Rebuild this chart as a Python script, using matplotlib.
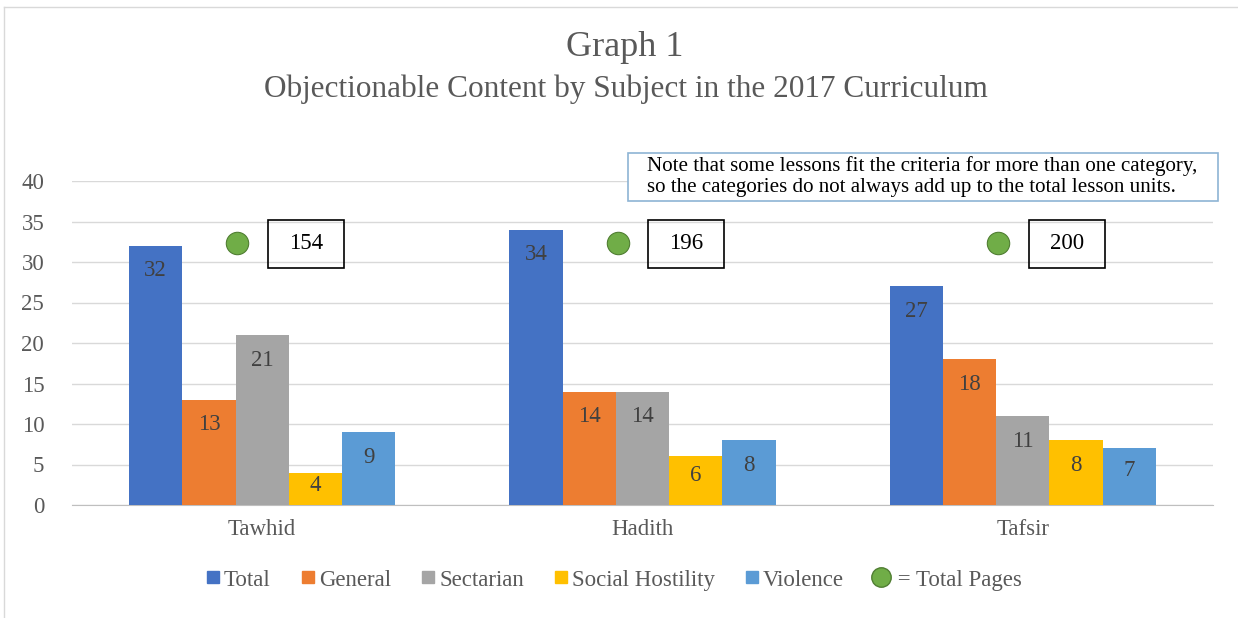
import matplotlib
matplotlib.use("Agg")
from matplotlib import pyplot as plt
from matplotlib.lines import Line2D
from matplotlib.patches import Rectangle
import numpy as np

subjects = ["Tawhid", "Hadith", "Tafsir"]
series_names = ["Total", "General", "Sectarian", "Social Hostility", "Violence"]
total = [32, 34, 27]
general = [13, 14, 18]
sectarian = [21, 14, 11]
social_hostility = [4, 6, 8]
violence = [9, 8, 7]
total_pages = [154, 196, 200]

colors = ["#4472C4", "#ED7D31", "#A5A5A5", "#FFC000", "#5B9BD5"]
green = "#70AD47"
text_gray = "#595959"
plt.rcParams["font.family"] = ["Liberation Serif", "DejaVu Serif"]

W, H = 1238, 618
fig = plt.figure(figsize=(W / 100, H / 100), dpi=100)

def px(x0, y0, x1, y1):
    # pixel box (top-left origin) -> figure fraction rect
    return [x0 / W, 1 - y1 / H, (x1 - x0) / W, (y1 - y0) / H]

ax = fig.add_axes(px(72, 181, 1213, 505))

x = np.arange(len(subjects))
width = 0.14
all_series = [total, general, sectarian, social_hostility, violence]
for i, (name, vals) in enumerate(zip(series_names, all_series)):
    xs = x + (i - 2) * width
    ax.bar(xs, vals, width=width, color=colors[i], label=name, zorder=3)
    for xi, v in zip(xs, vals):
        yl = max(v - 3.1, v * 0.6)
        ax.text(xi, yl, str(v), ha="center", va="center", fontsize=16.5,
                color="#404040", zorder=4)

# total pages markers + boxes
ax.scatter(x - 0.065, [32.4] * 3, s=260, color=green, edgecolor="#507E32",
           linewidth=0.8, zorder=4, clip_on=False)
for xi, p in zip(x, total_pages):
    ax.add_patch(Rectangle((xi + 0.015, 29.3), 0.2, 5.9, fill=False,
                           edgecolor="black", linewidth=1.2, zorder=4))
    ax.text(xi + 0.115, 32.25, str(p), ha="center", va="center",
            fontsize=16.5, color="black", zorder=5)

ax.set_xlim(-0.5, 2.5)
ax.set_ylim(0, 40)
ax.set_yticks(range(0, 41, 5))
ax.set_xticks(x)
ax.set_xticklabels(subjects)
ax.yaxis.grid(True, color="#D9D9D9", linewidth=1, zorder=0)
ax.set_axisbelow(True)
for s in ["top", "right", "left"]:
    ax.spines[s].set_visible(False)
ax.spines["bottom"].set_color("#BFBFBF")
ax.tick_params(axis="both", length=0, labelsize=16.5, colors=text_gray)
ax.tick_params(axis="y", pad=20)
ax.tick_params(axis="x", pad=10)

fig.text(625 / W, 1 - 47 / H, "Graph 1", ha="center", va="center",
         fontsize=26, color=text_gray)
fig.text(626 / W, 1 - 89 / H, "Objectionable Content by Subject in the 2017 Curriculum",
         ha="center", va="center", fontsize=22.5, color=text_gray)

# note box
fig.patches.append(Rectangle((628 / W, 1 - 201 / H), 590 / W, 48 / H,
                             transform=fig.transFigure, fill=True,
                             facecolor="white", edgecolor="#8EB4D4",
                             linewidth=1.2, zorder=5))
fig.text(647 / W, 1 - 166 / H,
         "Note that some lessons fit the criteria for more than one category,",
         ha="left", va="center", fontsize=15.1, color="black", zorder=6)
fig.text(647 / W, 1 - 188 / H,
         "so the categories do not always add up to the total lesson units.",
         ha="left", va="center", fontsize=15.1, color="black", zorder=6)

# chart border
fig.add_artist(Line2D([4 / W, 4 / W], [0, 1 - 7 / H], transform=fig.transFigure,
                      color="#D9D9D9", linewidth=1))
fig.add_artist(Line2D([4 / W, 1], [1 - 7 / H, 1 - 7 / H], transform=fig.transFigure,
                      color="#D9D9D9", linewidth=1))

handles = [Line2D([], [], marker="s", linestyle="none", markersize=8,
                  color=c) for c in colors]
handles.append(Line2D([], [], marker="o", linestyle="none", markersize=14,
                      color=green, markeredgecolor="#507E32"))
labels = series_names + [" = Total Pages"]
fig.legend(handles, labels, loc="center", bbox_to_anchor=(614 / W, 1 - 580 / H),
           ncol=6, frameon=False, fontsize=16.5, handlelength=0.6,
           handletextpad=0.2, columnspacing=1.3, labelcolor=text_gray)

fig.savefig("out.png", dpi=100)
